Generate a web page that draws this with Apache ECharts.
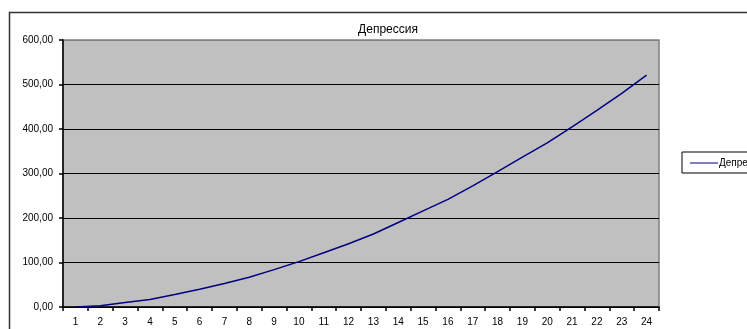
<!DOCTYPE html>
<html>
<head>
<meta charset="utf-8">
<script src="https://cdn.jsdelivr.net/npm/echarts@6/dist/echarts.min.js"></script>
<style>
  html, body { margin: 0; padding: 0; background: #fff; }
  #chart { width: 747px; height: 329px; }
</style>
</head>
<body>
<div id="chart"></div>
<script>
// Period numbers along the horizontal axis
const periods = ['1','2','3','4','5','6','7','8','9','10','11','12','13','14','15','16','17','18','19','20','21','22','23','24'];
// Accumulated depression value per period
const depression = [0, 3, 10, 17, 28, 40, 53, 67, 84, 102, 122, 142, 164, 190, 216, 242, 272, 304, 337, 369, 405, 442, 480, 521];
const seriesName = 'Депрессия';
const chartTitle = 'Депрессия';

const FONT = '"Liberation Sans", Arial, sans-serif';

const chart = echarts.init(document.getElementById('chart'), null, { renderer: 'canvas' });

chart.setOption({
  animation: false,
  backgroundColor: '#ffffff',
  title: {
    text: chartTitle,
    left: 383,
    top: 19,
    textAlign: 'center',
    textStyle: { fontFamily: FONT, fontSize: 12, fontWeight: 'normal', color: '#000' }
  },
  legend: {
    left: 682,
    top: 152,
    orient: 'vertical',
    backgroundColor: '#ffffff',
    borderColor: '#000000',
    borderWidth: 1,
    borderRadius: 0,
    padding: [6, 6, 5, 8],
    itemWidth: 28,
    itemHeight: 8,
    itemGap: 0,
    icon: 'path://M0,4 L28,4 L28,5 L0,5 Z',
    data: [seriesName],
    textStyle: { fontFamily: FONT, fontSize: 10, color: '#000', padding: [0, 0, 0, -4] }
  },
  graphic: [
    {
      // outer chart frame, running past the right and bottom edges
      type: 'rect',
      silent: true,
      shape: { x: 9.5, y: 12.5, width: 800, height: 400 },
      style: { fill: null, stroke: '#333333', lineWidth: 1.5 },
      z: 100
    }
  ],
  grid: {
    left: 63,
    top: 40,
    right: 88,
    bottom: 22,
    show: true,
    backgroundColor: '#c0c0c0',
    borderColor: '#808080',
    borderWidth: 1.5
  },
  xAxis: {
    type: 'category',
    data: periods,
    boundaryGap: true,
    axisLine: { lineStyle: { color: '#000', width: 1.5 } },
    axisTick: { show: true, interval: 0, length: 4, lineStyle: { color: '#000', width: 1.5 } },
    axisLabel: { interval: 0, margin: 10, fontFamily: FONT, fontSize: 10, color: '#000' },
    splitLine: { show: false }
  },
  yAxis: {
    type: 'value',
    min: 0,
    max: 600,
    interval: 100,
    axisLine: { show: true, lineStyle: { color: '#000', width: 1.5 } },
    axisTick: { show: true, length: 4, lineStyle: { color: '#000', width: 1.5 } },
    axisLabel: {
      margin: 10,
      fontFamily: FONT,
      fontSize: 10,
      color: '#000',
      formatter: v => v.toFixed(2).replace('.', ',')
    },
    // black gridlines, the top one blends into the grey plot frame
    splitLine: {
      show: true,
      lineStyle: { color: ['#000', '#000', '#000', '#000', '#000', '#000', '#808080'], width: 1.2 }
    }
  },
  series: [
    {
      name: seriesName,
      type: 'line',
      data: depression,
      symbol: 'none',
      smooth: false,
      lineStyle: { color: '#000080', width: 1.5 },
      itemStyle: { color: '#000080' },
      z: 3
    }
  ]
});
</script>
</body>
</html>
